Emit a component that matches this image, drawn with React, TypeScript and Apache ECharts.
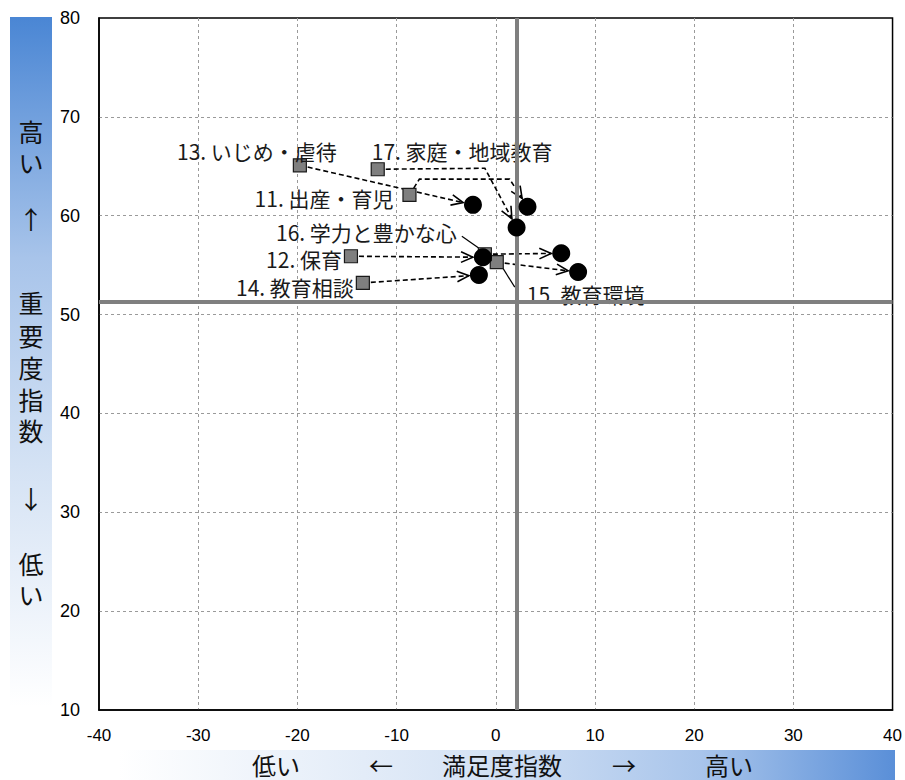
import React, { useEffect, useRef } from "react";
import * as echarts from "echarts";

// ---- data ----
const categories = [
  "11. 出産・育児",
  "12. 保育",
  "13. いじめ・虐待",
  "14. 教育相談",
  "15. 教育環境",
  "16. 学力と豊かな心",
  "17. 家庭・地域教育",
];
// previous survey (grey squares)
const prevSatisfaction = [-8.7, -14.6, -19.75, -13.4, 0.1, -1.1, -11.9];
const prevImportance = [62.1, 55.9, 65.1, 53.2, 55.3, 56.1, 64.7];
// current survey (black circles)
const curSatisfaction = [3.2, -1.3, -2.3, -1.7, 8.3, 6.6, 2.1];
const curImportance = [60.9, 55.8, 61.1, 54.0, 54.3, 56.2, 58.8];
// intermediate bend points of the arrows (data units)
const arrowVia: number[][][] = [
  [[-7.7, 63.7], [1.4, 63.7]],
  [],
  [],
  [],
  [],
  [],
  [[-1.1, 64.8]],
];
// reference (average) lines
const refSatisfaction = 2.1;
const refImportance = 51.3;
// axis ticks
const xTickLabels = [-40, -30, -20, -10, 0, 10, 20, 30, 40];
const yTickLabels = [10, 20, 30, 40, 50, 60, 70, 80];
// side captions
const yCaption = ["高", "い", "↑", "重", "要", "度", "指", "数", "↓", "低", "い"];
const xCaption = ["低い", "←", "満足度指数", "→", "高い"];

// ---- layout (pixels) ----
const yCaptionY = [131, 162, 218, 302, 335, 367, 399, 430, 498, 563, 594];
const xCaptionX = [276, 381, 502, 624, 729];
const labelLayout: { dx: number; dy: number; align: string; leader?: number[][] }[] = [
  { dx: -16, dy: 3, align: "right" },
  { dx: -9, dy: 3, align: "right" },
  { dx: 37, dy: -14, align: "right" },
  { dx: -9, dy: 4, align: "right" },
  { dx: 30, dy: 32, align: "left", leader: [[3, 1], [18, 25]] },
  { dx: -28, dy: -22, align: "right", leader: [[-23, -18], [-3, -4]] },
  { dx: -6, dy: -18, align: "left" },
];

const CJK = '"Noto Sans CJK JP", "Noto Sans", sans-serif';
const NUM = '"Liberation Sans", "Noto Sans", sans-serif';

export default function App() {
  const ref = useRef<HTMLDivElement>(null);

  useEffect(() => {
    if (!ref.current) return;
    const chart = echarts.init(ref.current, null, { renderer: "svg" });

    const n = categories.length;
    const arrowData = Array.from({ length: n }, (_, i) => [curSatisfaction[i], curImportance[i]]);
    const squareData = Array.from({ length: n }, (_, i) => [prevSatisfaction[i], prevImportance[i]]);
    const circleData = Array.from({ length: n }, (_, i) => [curSatisfaction[i], curImportance[i]]);

    const leftGrad = new echarts.graphic.LinearGradient(0, 0, 0, 1, [
      { offset: 0, color: "#4a86d4" },
      { offset: 0.35, color: "#a8c4ea" },
      { offset: 0.65, color: "#d4e2f4" },
      { offset: 1, color: "#ffffff" },
    ]);
    const bottomGrad = new echarts.graphic.LinearGradient(0, 0, 1, 0, [
      { offset: 0, color: "#ffffff" },
      { offset: 0.45, color: "#d7e4f5" },
      { offset: 0.75, color: "#a9c5eb" },
      { offset: 1, color: "#5a8fd8" },
    ]);

    const bigText = (text: string, x: number, y: number, size = 25) => ({
      type: "text",
      x,
      y,
      z: 10,
      style: {
        text,
        fill: "#111",
        font: `${size}px ${CJK}`,
        align: "center",
        verticalAlign: "middle",
      },
    });

    const option: any = {
      animation: false,
      backgroundColor: "#ffffff",
      grid: {
        left: 99,
        top: 18,
        right: 12,
        bottom: 70,
        show: true,
        borderColor: "#000",
        borderWidth: 1.5,
        backgroundColor: "#ffffff",
      },
      xAxis: {
        type: "value",
        min: xTickLabels[0],
        max: xTickLabels[xTickLabels.length - 1],
        interval: 10,
        axisLine: { show: true, onZero: false, lineStyle: { color: "#000", width: 1.5 } },
        axisTick: { show: false },
        splitLine: {
          show: true,
          showMinLine: false,
          showMaxLine: false,
          lineStyle: { color: "#9a9a9a", type: [3, 3], width: 1 },
        },
        axisLabel: { margin: 17, fontSize: 17, color: "#000", fontFamily: NUM },
      },
      yAxis: {
        type: "value",
        min: yTickLabels[0],
        max: yTickLabels[yTickLabels.length - 1],
        interval: 10,
        axisLine: { show: true, onZero: false, lineStyle: { color: "#000", width: 1.5 } },
        axisTick: { show: false },
        splitLine: {
          show: true,
          showMinLine: false,
          showMaxLine: false,
          lineStyle: { color: "#9a9a9a", type: [3, 3], width: 1 },
        },
        axisLabel: { margin: 19, fontSize: 18, color: "#000", fontFamily: NUM },
      },
      graphic: [
        { type: "rect", shape: { x: 10, y: 17, width: 42, height: 690 }, style: { fill: leftGrad }, z: 0 },
        { type: "rect", shape: { x: 118, y: 750, width: 777, height: 30 }, style: { fill: bottomGrad }, z: 0 },
        ...yCaption.map((t, i) => bigText(t, 31, yCaptionY[i], 25)),
        ...xCaption.map((t, i) => bigText(t, xCaptionX[i], 764, 24)),
      ],
      series: [
        {
          type: "line",
          data: [],
          z: 2,
          markLine: {
            silent: true,
            symbol: ["none", "none"],
            label: { show: false },
            lineStyle: { color: "#7f7f7f", width: 4, type: "solid" },
            data: [{ xAxis: refSatisfaction }, { yAxis: refImportance }],
          },
        },
        {
          type: "custom",
          coordinateSystem: "cartesian2d",
          z: 3,
          data: arrowData,
          renderItem: (params: any, api: any) => {
            const i = params.dataIndex;
            const pts = [
              [prevSatisfaction[i], prevImportance[i]],
              ...arrowVia[i],
              [curSatisfaction[i], curImportance[i]],
            ].map((p) => api.coord(p));
            const m = pts.length;
            const [ex, ey] = pts[m - 1];
            const [sx, sy] = pts[m - 2];
            const ddx = ex - sx;
            const ddy = ey - sy;
            const len = Math.hypot(ddx, ddy) || 1;
            const ux = ddx / len;
            const uy = ddy / len;
            const tip = [ex - ux * 10, ey - uy * 10];
            pts[m - 1] = tip;
            const ah = 13;
            const ang = 0.42;
            const bx = -ux;
            const by = -uy;
            const rot = (a: number) => [bx * Math.cos(a) - by * Math.sin(a), bx * Math.sin(a) + by * Math.cos(a)];
            const w1 = rot(ang);
            const w2 = rot(-ang);
            return {
              type: "group",
              children: [
                {
                  type: "polyline",
                  shape: { points: pts },
                  style: { stroke: "#000", lineWidth: 1.6, lineDash: [5, 3], fill: null },
                },
                {
                  type: "polyline",
                  shape: {
                    points: [
                      [tip[0] + w1[0] * ah, tip[1] + w1[1] * ah],
                      tip,
                      [tip[0] + w2[0] * ah, tip[1] + w2[1] * ah],
                    ],
                  },
                  style: { stroke: "#000", lineWidth: 1.6, fill: null },
                },
              ],
            };
          },
        },
        {
          type: "custom",
          coordinateSystem: "cartesian2d",
          z: 4,
          data: squareData,
          renderItem: (params: any, api: any) => {
            const i = params.dataIndex;
            const p = api.coord([api.value(0), api.value(1)]);
            const L = labelLayout[i];
            const children: any[] = [];
            if (L.leader) {
              children.push({
                type: "line",
                shape: {
                  x1: p[0] + L.leader[0][0],
                  y1: p[1] + L.leader[0][1],
                  x2: p[0] + L.leader[1][0],
                  y2: p[1] + L.leader[1][1],
                },
                style: { stroke: "#000", lineWidth: 1.2 },
              });
            }
            children.push({
              type: "rect",
              shape: { x: p[0] - 6.5, y: p[1] - 6.5, width: 13, height: 13 },
              style: { fill: "#7f7f7f", stroke: "#1a1a1a", lineWidth: 1.2 },
            });
            children.push({
              type: "text",
              x: p[0] + L.dx,
              y: p[1] + L.dy,
              style: {
                text: categories[i],
                fill: "#1a1a1a",
                font: `21px ${CJK}`,
                align: L.align,
                verticalAlign: "middle",
              },
            });
            return { type: "group", children };
          },
        },
        {
          type: "scatter",
          z: 5,
          symbol: "circle",
          symbolSize: 18,
          itemStyle: { color: "#000", opacity: 1 },
          data: circleData,
        },
      ],
    };

    chart.setOption(option);
    return () => chart.dispose();
  }, []);

  return (
    <div
      ref={ref}
      style={{ position: "absolute", left: 0, top: 0, width: 905, height: 780 }}
    />
  );
}
